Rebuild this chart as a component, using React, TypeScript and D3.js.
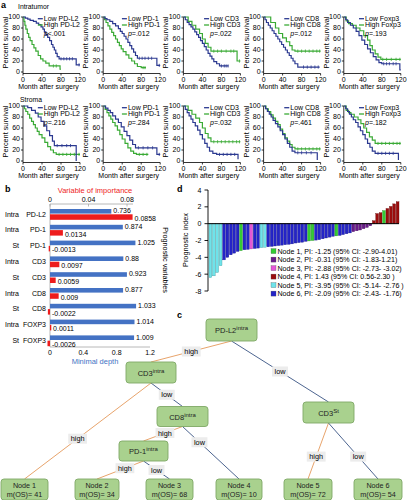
import React from "react";
import * as d3 from "d3";

const FONT = "'Liberation Sans', Arial, Helvetica, sans-serif";
type Pt = [number, number];

// ---------------- Panel a : Kaplan-Meier data ----------------
const kmMarkers = ["PD-L2", "PD-1", "CD3", "CD8", "Foxp3"];
const kmMonthTicks = [0, 40, 80, 120];
const kmPctTicks = [0, 20, 40, 60, 80, 100];
const intraP = ["<.001", "=.012", "=.022", "=.012", "=.193"];
const stromaP = ["=.216", "=.284", "=.032", "=.461", "=.182"];

const intraLow: Pt[][] = [
  [[0,100],[5,98],[10,96],[15,94],[22,92],[28,89],[33,86],[38,82],[42,78],[45,73],[48,68],[52,63],[56,57],[60,50],[63,45],[66,40],[69,34],[72,28],[76,24],[110,24],[112,13],[120,13]],
  [[0,100],[4,97],[8,95],[14,92],[20,88],[26,84],[32,79],[36,74],[40,70],[44,65],[48,60],[52,54],[56,48],[60,42],[64,36],[68,30],[72,25],[110,25],[113,12],[120,12]],
  [[0,100],[4,95],[8,90],[12,86],[16,82],[20,78],[24,73],[28,68],[32,63],[36,57],[40,52],[44,46],[48,40],[52,34],[56,29],[60,24],[64,19],[70,15],[76,11],[95,11]],
  [[0,100],[3,95],[6,90],[10,85],[14,80],[18,75],[22,70],[26,65],[30,60],[34,55],[38,50],[42,45],[46,40],[50,35],[54,30],[58,25],[62,20],[66,15],[72,9],[118,9]],
  [[0,100],[4,95],[8,90],[14,85],[20,80],[26,74],[32,66],[38,58],[44,50],[50,42],[56,35],[62,28],[68,22],[74,17],[80,15],[116,15],[118,4],[120,4]],
];
const intraHigh: Pt[][] = [
  [[0,100],[2,92],[4,85],[6,78],[9,70],[12,63],[15,57],[19,50],[23,44],[27,38],[32,30],[37,24],[42,20],[48,16],[55,11],[76,11],[78,5],[80,5]],
  [[0,100],[3,95],[6,90],[10,84],[14,78],[18,72],[22,66],[26,60],[30,54],[34,48],[38,42],[42,37],[48,31],[54,25],[60,20],[66,15],[72,10],[80,8],[90,8]],
  [[0,100],[10,92],[18,85],[26,78],[34,70],[40,60],[46,52],[52,45],[58,38],[110,38],[113,20],[120,20]],
  [[0,100],[15,90],[25,80],[32,70],[40,62],[48,55],[55,48],[60,40],[66,38],[120,38]],
  [[0,100],[5,93],[10,88],[18,85],[26,80],[34,75],[42,66],[50,58],[55,48],[60,40],[66,33],[72,27],[78,23],[120,23]],
];
const stromaLow: Pt[][] = [
  [[0,100],[10,97],[18,92],[26,87],[32,80],[38,72],[44,64],[50,55],[56,46],[62,36],[66,28],[110,28],[112,0]],
  [[0,100],[5,96],[10,92],[15,88],[20,82],[26,76],[32,70],[38,62],[44,54],[50,46],[56,38],[62,30],[68,24],[110,24],[113,12],[120,12]],
  [[0,100],[4,94],[8,88],[12,82],[16,76],[20,70],[25,64],[30,56],[35,48],[40,40],[45,32],[50,25],[55,18],[62,14],[70,12],[112,12],[115,3]],
  [[0,100],[4,95],[8,90],[12,85],[16,80],[20,74],[25,68],[30,62],[35,55],[40,48],[45,40],[50,32],[55,25],[60,18],[66,15],[110,15],[113,2]],
  [[0,100],[4,95],[8,90],[12,85],[16,80],[20,75],[25,70],[30,62],[35,55],[40,48],[45,40],[50,32],[55,25],[60,18],[66,14],[112,14],[115,2]],
];
const stromaHigh: Pt[][] = [
  [[0,100],[3,95],[6,90],[10,85],[14,78],[18,72],[22,66],[26,60],[30,54],[34,48],[40,42],[46,34],[52,26],[58,20],[64,15],[70,12],[120,12]],
  [[0,100],[4,94],[8,88],[12,82],[16,76],[20,70],[25,64],[30,56],[35,48],[40,40],[46,32],[52,24],[58,18],[64,14],[70,12],[95,12]],
  [[0,100],[10,92],[18,85],[26,78],[34,70],[40,60],[46,50],[52,42],[58,35],[120,35]],
  [[0,100],[5,95],[10,90],[15,84],[20,78],[25,72],[30,66],[35,58],[40,50],[45,42],[50,36],[55,30],[60,25],[66,22],[120,22]],
  [[0,100],[5,92],[10,88],[15,85],[22,80],[30,75],[36,68],[42,60],[48,52],[54,44],[60,38],[66,32],[120,32]],
];
const intraLowCensor = [[80,86,92,98,104,118],[76,82,88,95,102,118],[80,86,90,94],[84,92,100,108,115],[84,90,96,104,110]];
const intraHighCensor = [[64,70],[84,88],[64,72,80,90,100,106,118],[72,80,88,96,104,112,118],[82,90,100,110,118]];
const stromaLowCensor = [[72,82,92,100],[74,84,94,104,118],[76,84,92,100,108],[72,80,90,100],[72,80,88,96,104]];
const stromaHighCensor = [[76,84,92,100,108,118],[76,84,92],[64,72,80,88,96,104,112,118],[72,80,88,96,104,112,118],[72,80,88,96,104,112,118]];

// ---------------- Panel b : random survival forest ----------------
const bRegion = ["Intra", "Intra", "St", "Intra", "St", "Intra", "St", "Intra", "St"];
const bMarker = ["PD-L2", "PD-1", "PD-1", "CD3", "CD3", "CD8", "CD8", "FOXP3", "FOXP3"];
const minDepth = [0.736, 0.874, 1.025, 0.88, 0.923, 0.877, 1.033, 1.014, 1.009];
const vimp = [0.0858, 0.0134, -0.0013, 0.0097, 0.0059, 0.009, -0.0022, 0.0011, -0.0026];
const depthTicks = [0, 0.4, 0.8, 1.2];
const vimpTicks = [0, 0.04, 0.08];

// ---------------- Panel d : prognostic index waterfall ----------------
const piValues = [-6.4,-6.2,-5.8,-5.0,-4.3,-4.0,-3.7,-3.5,-3.3,-3.2,-3.1,-3.05,-3.0,-2.95,-2.9,-2.85,-2.8,-2.75,-2.7,-2.65,-2.6,-2.55,-2.5,-2.45,-2.4,-2.3,-2.25,-2.2,-2.1,-2.05,-2.0,-1.95,-1.9,-1.8,-1.7,-1.6,-1.5,-1.45,-1.4,-1.3,-1.2,-1.1,-0.95,-0.85,-0.75,-0.6,-0.45,-0.25,0.35,1.2,1.3,1.55,1.8,2.05,2.35,2.6];
const piNodes = [5,5,5,5,6,6,6,6,6,1,6,6,3,6,6,5,5,6,6,6,6,6,6,6,6,6,6,6,6,1,1,6,6,6,6,6,6,1,6,6,6,6,2,2,2,2,2,2,4,4,4,1,4,4,4,4];
const piTicks = [4, 2, 0, -2, -4, -6, -8];
const nodeColors: Record<number, string> = { 1: "#33cc33", 2: "#6a1b8a", 3: "#e557d8", 4: "#9b0d0d", 5: "#6fe3ea", 6: "#2424c8" };
const nodeLegend = [
  "Node 1, PI: -1.25 (95% CI: -2.90-4.01)",
  "Node 2, PI: -0.31 (95% CI: -1.83-1.21)",
  "Node 3, PI: -2.88 (95% CI: -2.73- -3.02)",
  "Node 4, PI: 1.43 (95% CI: 0.56-2.30 )",
  "Node 5, PI: -3.95 (95% CI: -5.14- -2.76 )",
  "Node 6, PI: -2.09 (95% CI: -2.43- -1.76)",
];

// ---------------- Panel c : survival tree ----------------
const treeSplits = [
  { id: "root", main: "PD-L2", sup: "intra" },
  { id: "cd3i", main: "CD3", sup: "intra" },
  { id: "cd3s", main: "CD3", sup: "St" },
  { id: "cd8i", main: "CD8", sup: "intra" },
  { id: "pd1i", main: "PD-1", sup: "intra" },
];
const leafOS = [41, 34, 68, 10, 72, 54];
const treeEdges: [string, string, string][] = [
  ["root", "cd3i", "high"], ["root", "cd3s", "low"],
  ["cd3i", "n1", "high"], ["cd3i", "cd8i", "low"],
  ["cd8i", "pd1i", "high"], ["cd8i", "n4", "low"],
  ["pd1i", "n2", "high"], ["pd1i", "n3", "low"],
  ["cd3s", "n5", "high"], ["cd3s", "n6", "low"],
];
// layout of the tree boxes (centre x, centre y, width, height)
const treeBoxes: Record<string, [number, number, number, number]> = {
  root: [231.5, 330, 51, 22], cd3i: [151, 372.5, 50, 21], cd3s: [328.5, 412.5, 51, 21],
  cd8i: [182.5, 416.5, 51, 20], pd1i: [143.5, 451, 49, 20],
  n1: [24.5, 489.5, 47, 21], n2: [97, 489.5, 44, 21], n3: [169.5, 489.5, 47, 21],
  n4: [239, 489.5, 46, 21], n5: [308, 489.5, 48, 21], n6: [378, 489.5, 48, 21],
};
const edgeLabelT = [0.5, 0.5, 0.58, 0.5, 0.45, 0.3, 0.4, 0.5, 0.6, 0.6];

// ---------------- helpers ----------------
let _ctx: CanvasRenderingContext2D | null = null;
function measure(s: string, size: number) {
  if (!_ctx) _ctx = document.createElement("canvas").getContext("2d");
  if (!_ctx) return s.length * size * 0.52;
  _ctx.font = `${size}px "Liberation Sans"`;
  return _ctx.measureText(s).width;
}
const LOW_C = "#2b3990";
const HIGH_C = "#3aaa35";

function valAt(c: Pt[], t: number) {
  let v = c[0][1];
  for (const [m, s] of c) if (m <= t) v = s;
  return v;
}

function KMPlot(props: { x0: number; top: number; low: Pt[]; high: Pt[]; lowC: number[]; highC: number[]; marker: string; p: string }) {
  const { x0, top, low, high, lowC, highC, marker, p } = props;
  const w = 57, h = 55;
  const x = d3.scaleLinear().domain([0, 120]).range([x0, x0 + w]);
  const y = d3.scaleLinear().domain([0, 100]).range([top + h, top]);
  const line = d3.line<Pt>().x(d => x(d[0])).y(d => y(d[1])).curve(d3.curveStepAfter);
  const lowLabel = `Low ${marker}`, highLabel = `High ${marker}`;
  const tw = Math.max(measure(lowLabel, 7), measure(highLabel, 7));
  const tx = x0 + w - tw;
  const ax = y(0) + 1.5;
  return (
    <g>
      <line x1={x0} x2={x0} y1={y(100)} y2={ax} stroke="#000" strokeWidth={0.8} />
      {kmPctTicks.map(t => (
        <g key={t}>
          <line x1={x0 - 2} x2={x0} y1={y(t)} y2={y(t)} stroke="#000" strokeWidth={0.8} />
          <text x={x0 - 3} y={y(t) + 2.4} fontSize={7} textAnchor="end">{t}</text>
        </g>
      ))}
      <line x1={x0} x2={x0 + w} y1={ax} y2={ax} stroke="#000" strokeWidth={0.8} />
      {kmMonthTicks.map(t => (
        <g key={t}>
          <line x1={x(t)} x2={x(t)} y1={ax} y2={ax + 2} stroke="#000" strokeWidth={0.8} />
          <text x={x(t)} y={y(0) + 10.3} fontSize={7} textAnchor="middle">{t}</text>
        </g>
      ))}
      <text x={x0 + w / 2 - 3} y={y(0) + 16.8} fontSize={7} textAnchor="middle">Month after surgery</text>
      <text transform={`translate(${x0 - 15},${top + h / 2 - 2}) rotate(-90)`} fontSize={7.3} textAnchor="middle">Percent  survival</text>
      <path d={line(high) || ""} fill="none" stroke={HIGH_C} strokeWidth={1.2} />
      <path d={line(low) || ""} fill="none" stroke={LOW_C} strokeWidth={1.2} />
      {highC.map((t, i) => <line key={"h" + i} x1={x(t)} x2={x(t)} y1={y(valAt(high, t)) - 1.6} y2={y(valAt(high, t)) + 1.6} stroke={HIGH_C} strokeWidth={0.8} />)}
      {lowC.map((t, i) => <line key={"l" + i} x1={x(t)} x2={x(t)} y1={y(valAt(low, t)) - 1.6} y2={y(valAt(low, t)) + 1.6} stroke={LOW_C} strokeWidth={0.8} />)}
      <line x1={tx - 6} x2={tx - 1} y1={top + 1.7} y2={top + 1.7} stroke={LOW_C} strokeWidth={1.3} />
      <text x={tx} y={top + 4.1} fontSize={7}>{lowLabel}</text>
      <line x1={tx - 6} x2={tx - 1} y1={top + 8} y2={top + 8} stroke={HIGH_C} strokeWidth={1.3} />
      <text x={tx} y={top + 10.4} fontSize={7}>{highLabel}</text>
      <text x={tx} y={top + 18.6} fontSize={7}><tspan fontStyle="italic">p</tspan>{p}</text>
    </g>
  );
}

function PanelA() {
  const xs = kmMarkers.map((_, i) => 23 + i * 80.2);
  return (
    <g>
      <text x={1} y={7.5} fontSize={9} fontWeight="bold">a</text>
      <text x={18} y={8.5} fontSize={6.8}>Intratumor</text>
      {kmMarkers.map((m, i) => (
        <KMPlot key={"i" + i} x0={xs[i]} top={17} low={intraLow[i]} high={intraHigh[i]} lowC={intraLowCensor[i]} highC={intraHighCensor[i]} marker={m} p={intraP[i]} />
      ))}
      <text x={20} y={101.5} fontSize={6.8}>Stroma</text>
      {kmMarkers.map((m, i) => (
        <KMPlot key={"s" + i} x0={xs[i]} top={106} low={stromaLow[i]} high={stromaHigh[i]} lowC={stromaLowCensor[i]} highC={stromaHighCensor[i]} marker={m} p={stromaP[i]} />
      ))}
    </g>
  );
}

function PanelB() {
  const rowY = d3.scalePoint<number>().domain(d3.range(bMarker.length)).range([214, 340.4]);
  const dx = d3.scaleLinear().domain([0, 1.2]).range([50, 150]);
  const vx = d3.scaleLinear().domain([0, 0.08]).range([50, 127]);
  const blue = "#4472c4", red = "#ee1c1c", axisC = "#a6a6a6";
  return (
    <g>
      <text x={5} y={192} fontSize={9} fontWeight="bold">b</text>
      <text x={95} y={193} fontSize={7.5} fill={red} textAnchor="middle">Variable of importance</text>
      <line x1={vx(0)} x2={133} y1={204} y2={204} stroke={axisC} strokeWidth={0.8} />
      {vimpTicks.map(t => (
        <g key={t}>
          <line x1={vx(t)} x2={vx(t)} y1={204} y2={206.5} stroke={axisC} strokeWidth={0.8} />
          <text x={vx(t)} y={202.3} fontSize={7} textAnchor="middle">{t}</text>
        </g>
      ))}
      <line x1={50} x2={50} y1={204} y2={347} stroke={axisC} strokeWidth={0.8} />
      <line x1={dx(0)} x2={dx(1.2)} y1={347} y2={347} stroke={axisC} strokeWidth={0.8} />
      {depthTicks.map(t => (
        <text key={t} x={dx(t)} y={354.5} fontSize={7} textAnchor="middle">{t}</text>
      ))}
      <text x={95} y={364} fontSize={7.5} fill={blue} textAnchor="middle">Minimal depth</text>
      {bMarker.map((m, i) => {
        const cy = rowY(i) as number;
        const vEnd = vx(vimp[i]);
        const rx = Math.min(vEnd, vx(0));
        const rw = Math.max(Math.abs(vEnd - vx(0)), 1.3);
        return (
          <g key={i}>
            <text x={19} y={cy + 2.5} fontSize={7} textAnchor="end">{bRegion[i]}</text>
            <text x={46} y={cy + 2.5} fontSize={7} textAnchor="end">{m}</text>
            <rect x={dx(0)} y={cy - 5} width={dx(minDepth[i]) - dx(0)} height={4.6} fill={blue} />
            <rect x={vimp[i] < 0 ? vx(0) - rw : rx} y={cy + 0.3} width={rw} height={5.5} fill={red} />
            <text x={dx(minDepth[i]) + 2} y={cy - 0.8} fontSize={7}>{String(minDepth[i])}</text>
            <text x={Math.max(vEnd, vx(0)) + 2} y={cy + 6.8} fontSize={7}>{String(vimp[i])}</text>
          </g>
        );
      })}
      <text transform="translate(163,260) rotate(90)" fontSize={7.3} textAnchor="middle">Prognostic variables</text>
    </g>
  );
}

function PanelD() {
  const y = d3.scaleLinear().domain([-8, 4]).range([291, 190]);
  const x = d3.scaleBand<number>().domain(d3.range(piValues.length)).range([209, 399]).paddingInner(0.18);
  return (
    <g>
      <text x={177} y={192} fontSize={9} fontWeight="bold">d</text>
      <text transform="translate(187.5,240) rotate(-90)" fontSize={7.3} textAnchor="middle">Prognostic index</text>
      <line x1={208} x2={208} y1={y(4)} y2={y(-8)} stroke="#000" strokeWidth={0.9} />
      {piTicks.map(t => (
        <g key={t}>
          <line x1={204.5} x2={208} y1={y(t)} y2={y(t)} stroke="#000" strokeWidth={0.9} />
          <text x={201.5} y={y(t) + 2.5} fontSize={7} textAnchor="end">{t}</text>
        </g>
      ))}
      {piValues.map((v, i) => (
        <rect key={i} x={x(i)} width={x.bandwidth()} y={Math.min(y(v), y(0))} height={Math.abs(y(v) - y(0))}
          fill={nodeColors[piNodes[i]]} stroke={d3.color(nodeColors[piNodes[i]])!.darker(1.2).toString()} strokeWidth={0.35} />
      ))}
      <line x1={208} x2={399} y1={y(0)} y2={y(0)} stroke="#000" strokeWidth={1} />
      {nodeLegend.map((s, i) => (
        <g key={i}>
          <rect x={271} y={248.6 + i * 8.5} width={5} height={5} fill={nodeColors[i + 1]} stroke="#555" strokeWidth={0.3} />
          <text x={277.5} y={253.6 + i * 8.5} fontSize={7.1}>{s}</text>
        </g>
      ))}
    </g>
  );
}

function PanelC() {
  const hiC = "#e8a46c", loC = "#4d6590";
  const top = (id: string) => [treeBoxes[id][0], treeBoxes[id][1] - treeBoxes[id][3] / 2];
  const bot = (id: string) => [treeBoxes[id][0], treeBoxes[id][1] + treeBoxes[id][3] / 2];
  const boxStyle = { fill: "#a9d18e", stroke: "#7fa866", strokeWidth: 0.9 };
  return (
    <g>
      <text x={177} y={318} fontSize={9} fontWeight="bold">c</text>
      {treeEdges.map(([a, b, lab], i) => {
        const p0 = bot(a), p1 = top(b);
        return <line key={i} x1={p0[0]} y1={p0[1]} x2={p1[0]} y2={p1[1]} stroke={lab === "high" ? hiC : loC} strokeWidth={1} />;
      })}
      {treeEdges.map(([a, b, lab], i) => {
        const p0 = bot(a), p1 = top(b);
        const t = edgeLabelT[i];
        const lx = p0[0] + (p1[0] - p0[0]) * t, ly = p0[1] + (p1[1] - p0[1]) * t;
        const tw = measure(lab, 7.3) + 5;
        return (
          <g key={"l" + i}>
            <rect x={lx - tw / 2} y={ly - 5} width={tw} height={10} fill="#ececec" />
            <text x={lx} y={ly + 2.6} fontSize={7.3} textAnchor="middle">{lab}</text>
          </g>
        );
      })}
      {treeSplits.map(n => {
        const [cx, cy, w, h] = treeBoxes[n.id];
        return (
          <g key={n.id}>
            <rect x={cx - w / 2} y={cy - h / 2} width={w} height={h} rx={3} {...boxStyle} />
            <text x={cx} y={cy + 3} fontSize={7.5} textAnchor="middle" fill="#222">
              {n.main}<tspan fontSize={6} dy={-3}>{n.sup}</tspan>
            </text>
          </g>
        );
      })}
      {leafOS.map((m, i) => {
        const [cx, cy, w, h] = treeBoxes["n" + (i + 1)];
        return (
          <g key={"n" + i}>
            <rect x={cx - w / 2} y={cy - h / 2} width={w} height={h} rx={3} {...boxStyle} />
            <text x={cx} y={cy - 1.5} fontSize={7.2} textAnchor="middle" fill="#222">{`Node ${i + 1}`}</text>
            <text x={cx} y={cy + 7.3} fontSize={7.2} textAnchor="middle" fill="#222">{`m(OS)= ${m}`}</text>
          </g>
        );
      })}
    </g>
  );
}

export default function App() {
  return (
    <svg width={408} height={500} viewBox="0 0 408 500" fontFamily={FONT}
      style={{ position: "absolute", left: 0, top: 0, background: "#fff" }}>
      <rect width={408} height={500} fill="#fff" />
      <PanelA />
      <PanelB />
      <PanelD />
      <PanelC />
    </svg>
  );
}
